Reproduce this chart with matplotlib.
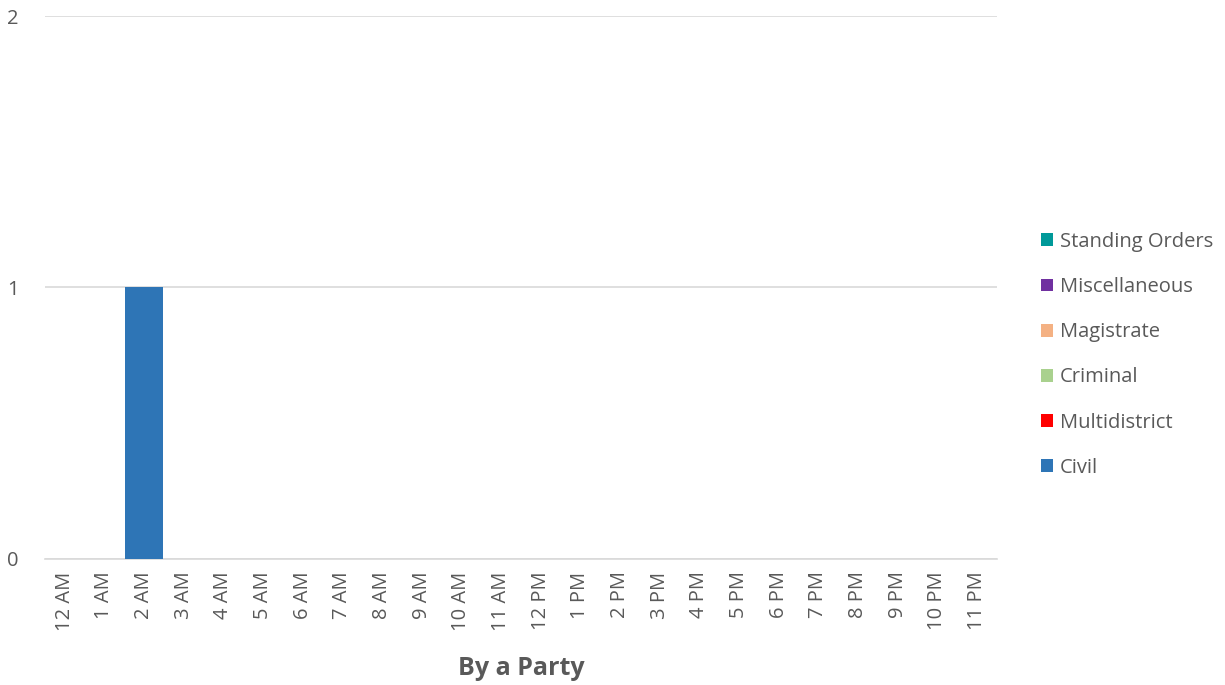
import numpy as np
import matplotlib.pyplot as plt
from matplotlib.patches import Patch

# Data
hours = ['12 AM', '1 AM', '2 AM', '3 AM', '4 AM', '5 AM', '6 AM', '7 AM', '8 AM',
         '9 AM', '10 AM', '11 AM', '12 PM', '1 PM', '2 PM', '3 PM', '4 PM', '5 PM',
         '6 PM', '7 PM', '8 PM', '9 PM', '10 PM', '11 PM']
civil = [0, 0, 1, 0, 0, 0, 0, 0, 0, 0, 0, 0, 0, 0, 0, 0, 0, 0, 0, 0, 0, 0, 0, 0]
multidistrict = [0] * 24
criminal = [0] * 24
magistrate = [0] * 24
miscellaneous = [0] * 24
standing_orders = [0] * 24

series_names = ['Civil', 'Multidistrict', 'Criminal', 'Magistrate',
                'Miscellaneous', 'Standing Orders']
series_values = [civil, multidistrict, criminal, magistrate,
                 miscellaneous, standing_orders]
colors = ['#2E75B6', '#FF0000', '#A9D18E', '#F4B183', '#7030A0', '#009999']

plt.rcParams['font.family'] = ['Open Sans', 'DejaVu Sans']

fig = plt.figure(figsize=(12.25, 6.85), dpi=100)
ax = fig.add_axes([0.0367, 0.184, 0.777, 0.7926])

x = np.arange(len(hours))
bottom = np.zeros(len(hours))
for name, vals, c in zip(series_names, series_values, colors):
    vals = np.array(vals, dtype=float)
    ax.bar(x, vals, width=0.95, bottom=bottom, color=c, zorder=3)
    bottom += vals

ax.set_xlim(-0.5, len(hours) - 0.5)
ax.set_ylim(0, 2)
ax.set_yticks([0, 1, 2])
ax.yaxis.grid(True, color='#d9d9d9', linewidth=1.2, zorder=0)
for s in ['top', 'right', 'left']:
    ax.spines[s].set_visible(False)
ax.spines['bottom'].set_color('#d9d9d9')
ax.spines['bottom'].set_linewidth(1.2)
ax.tick_params(axis='both', length=0, colors='#595959', labelsize=14.5)
ax.tick_params(axis='y', pad=19)
ax.tick_params(axis='x', pad=9)
ax.set_xticks(x)
ax.set_xticklabels(hours, rotation=90)

ax.set_xlabel('By a Party', fontsize=18, fontweight='bold', color='#595959', labelpad=18)

handles = [Patch(facecolor=c, label=n) for n, c in zip(series_names, colors)][::-1]
leg = fig.legend(handles=handles, loc='center left', bbox_to_anchor=(0.835, 0.482),
                 frameon=False, fontsize=14.5, handlelength=0.6, handleheight=0.6,
                 handletextpad=0.35, labelspacing=1.25, labelcolor='#595959')

plt.savefig('out.png', dpi=100)
